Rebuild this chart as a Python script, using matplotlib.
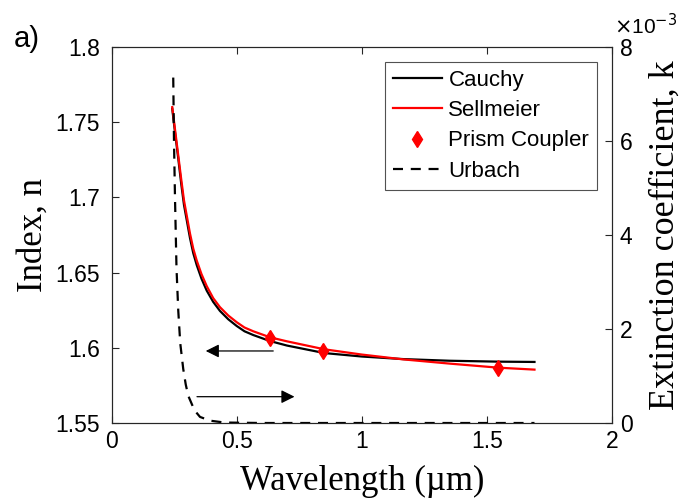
import matplotlib.pyplot as plt
from matplotlib.ticker import FixedLocator

# Refractive index (wavelength in um)
wl_sellmeier = [0.241, 0.253, 0.265, 0.277, 0.288, 0.300, 0.312, 0.325, 0.339,
                0.358, 0.379, 0.405, 0.432, 0.465, 0.499, 0.53, 0.565, 0.632,
                0.70, 0.85, 1.0, 1.165, 1.35, 1.545, 1.69]
n_sellmeier = [1.760, 1.744, 1.728, 1.712, 1.698, 1.687, 1.676, 1.666, 1.658,
               1.649, 1.641, 1.633, 1.627, 1.6215, 1.617, 1.6135, 1.611,
               1.607, 1.6043, 1.599, 1.5955, 1.5923, 1.5895, 1.5868, 1.5855]
wl_cauchy = [0.241, 0.253, 0.265, 0.277, 0.288, 0.300, 0.312, 0.325, 0.339,
             0.358, 0.379, 0.405, 0.432, 0.465, 0.499, 0.53, 0.565, 0.632,
             0.70, 0.85, 1.0, 1.165, 1.35, 1.545, 1.69]
n_cauchy = [1.759, 1.742, 1.726, 1.709, 1.695, 1.684, 1.673, 1.663, 1.655,
            1.646, 1.638, 1.6305, 1.6245, 1.619, 1.6145, 1.611, 1.6085,
            1.6045, 1.6015, 1.5965, 1.5942, 1.5925, 1.5914, 1.5908, 1.5906]

# Prism coupler measurements
wl_prism = [0.633, 0.843, 1.545]
n_prism = [1.6065, 1.5979, 1.5868]

# Urbach tail, extinction coefficient in units of 1e-3
wl_urbach = [0.245, 0.248, 0.252, 0.258, 0.265, 0.273, 0.285, 0.295, 0.305,
             0.33, 0.352, 0.392, 0.45, 0.6, 1.0, 1.69]
k_urbach = [7.35, 6.0, 4.8, 3.3, 2.4, 1.7, 1.15, 0.82, 0.58, 0.27, 0.13, 0.05,
            0.01, 0.0, 0.0, 0.0]

sans = "Liberation Sans"
serif = "Liberation Serif"
axcol = "#262626"

fig = plt.figure(figsize=(6.93, 5.04), dpi=100)
ax = fig.add_axes([0.1616, 0.1607, 0.7215, 0.746])
ax2 = ax.twinx()

l1, = ax.plot(wl_cauchy, n_cauchy, color="black", lw=1.6, label="Cauchy")
l2, = ax.plot(wl_sellmeier, n_sellmeier, color="red", lw=1.6, label="Sellmeier")
l3, = ax.plot(wl_prism, n_prism, "d", color="red", ms=8, label="Prism Coupler")
l4, = ax2.plot(wl_urbach, k_urbach, color="black", lw=1.6, ls=(0, (4.5, 3.5)),
               label="Urbach")

ax.set_xlim(0, 2)
ax.set_ylim(1.55, 1.8)
ax2.set_ylim(0, 8)
ax.xaxis.set_major_locator(FixedLocator([0, 0.5, 1, 1.5, 2]))
ax.yaxis.set_major_locator(FixedLocator([1.55, 1.6, 1.65, 1.7, 1.75, 1.8]))
ax2.yaxis.set_major_locator(FixedLocator([0, 2, 4, 6, 8]))
ax.set_xticklabels(["0", "0.5", "1", "1.5", "2"])
ax.set_yticklabels(["1.55", "1.6", "1.65", "1.7", "1.75", "1.8"])
ax2.set_yticklabels(["0", "2", "4", "6", "8"])

ax.tick_params(axis="y", direction="in", length=5, labelsize=16.5,
               colors=axcol, labelcolor="black", pad=8.5)
ax.tick_params(axis="x", direction="in", top=True, length=5, labelsize=16.5,
               colors=axcol, labelcolor="black", pad=5)
ax2.tick_params(direction="in", length=5, labelsize=16.5, colors=axcol,
                labelcolor="black", pad=5.5)
for a in (ax, ax2):
    for s in a.spines.values():
        s.set_color(axcol)
        s.set_linewidth(0.8)
    for t in a.get_xticklabels() + a.get_yticklabels():
        t.set_fontfamily(sans)

ax.set_xlabel("Wavelength (µm)", fontfamily=serif, fontsize=25, labelpad=9)
ax.set_ylabel("Index, n", fontfamily=serif, fontsize=25, labelpad=4)
ax2.set_ylabel("Extinction coefficient, k", fontfamily=serif, fontsize=26,
               labelpad=12)

fig.text(614 / 693, 1 - 34 / 504, r"$\times$10$^{-3}$", fontfamily=sans,
         fontsize=15, ha="left", va="baseline")
fig.text(14 / 693, 1 - 47 / 504, "a)", fontfamily=sans, fontsize=21,
         ha="left", va="baseline")

# arrows pointing to each axis
ax.annotate("", xy=(0.375, 1.5979), xytext=(0.645, 1.5979),
            arrowprops=dict(arrowstyle="-|>", color="black", lw=0.9,
                            mutation_scale=20, shrinkA=0, shrinkB=0))
ax.annotate("", xy=(0.73, 1.5675), xytext=(0.34, 1.5675),
            arrowprops=dict(arrowstyle="-|>", color="black", lw=0.9,
                            mutation_scale=20, shrinkA=0, shrinkB=0))

leg = ax2.legend(handles=[l1, l2, l3, l4], loc="upper right",
                 bbox_to_anchor=(1 - 15 / 500, 1 - 15 / 376), borderaxespad=0,
                 fancybox=False, edgecolor=axcol, handlelength=2.2,
                 handletextpad=0.3, borderpad=0.35, labelspacing=0.42,
                 prop={"family": sans, "size": 16})
leg.get_frame().set_linewidth(0.8)

fig.savefig("out.png", dpi=100)
